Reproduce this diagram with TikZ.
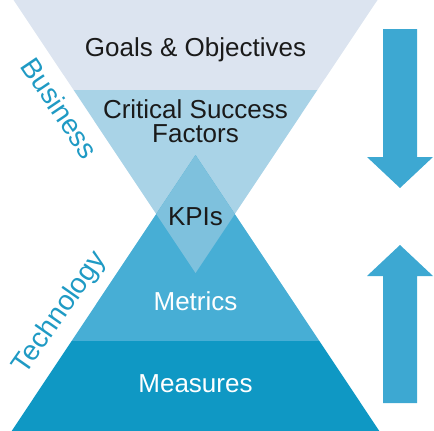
\documentclass[tikz,border=0pt]{standalone}
\usepackage{fontspec}
\setmainfont{Liberation Sans}
\definecolor{goalsfill}{HTML}{DCE4F0}
\definecolor{csffill}{HTML}{A9D3E7}
\definecolor{kpifill}{HTML}{7EC1DD}
\definecolor{metricsfill}{HTML}{47AED5}
\definecolor{measuresfill}{HTML}{0F98C4}
\definecolor{arrowfill}{HTML}{3DA8D2}
\definecolor{sidetext}{HTML}{1F9AC4}
\definecolor{darktext}{HTML}{1A1A1A}

\begin{document}
\begin{tikzpicture}[x=1pt,y=-1pt,
    level/.style={font=\fontsize{26}{24}\selectfont,inner sep=0pt,anchor=base,align=center},
    side/.style={font=\fontsize{28}{28}\selectfont,inner sep=0pt,text=sidetext}]
        \useasboundingbox (0,0) rectangle (434,431);
        % top funnel
        \fill[goalsfill] (13.5,0) -- (377.5,0) -- (317.4,90) -- (73.6,90) -- cycle;
        \fill[csffill] (73.6,90) -- (317.4,90) -- (195.5,273) -- cycle;
        % bottom pyramid
        \fill[metricsfill] (195.5,155) -- (319.4,341) -- (71.6,341) -- cycle;
        \fill[measuresfill] (71.6,341) -- (319.4,341) -- (379.3,431) -- (11.7,431) -- cycle;
        \begin{scope}
          \clip (13.5,0) -- (377.5,0) -- (195.5,273) -- cycle;
          \fill[kpifill] (195.5,155) -- (379.3,431) -- (11.7,431) -- cycle;
        \end{scope}
        % arrows
        \fill[arrowfill] (383,29) -- (417,29) -- (417,157) -- (433,157)
        -- (400,188) -- (367,157) -- (383,157) -- cycle;
        \fill[arrowfill] (383,403) -- (417,403) -- (417,276) -- (433,276)
        -- (400,245) -- (367,276) -- (383,276) -- cycle;
        \node[level,text=darktext] (goals) at (195.5,56) {Goals \& Objectives};
        \node[level,text=darktext] (csf) at (195.5,142) {Critical Success\\Factors};
        \node[level,text=darktext] (kpis) at (195.5,225.5) {KPIs};
        \node[level,text=white] (metrics) at (195.5,310) {Metrics};
        \node[level,text=white] (measures) at (195.5,392) {Measures};
        \node[side,rotate=-56] (business) at (60,108) {Business};
        \node[side,rotate=55] (technology) at (60,313) {Technology};
      \end{tikzpicture}
\end{document}
